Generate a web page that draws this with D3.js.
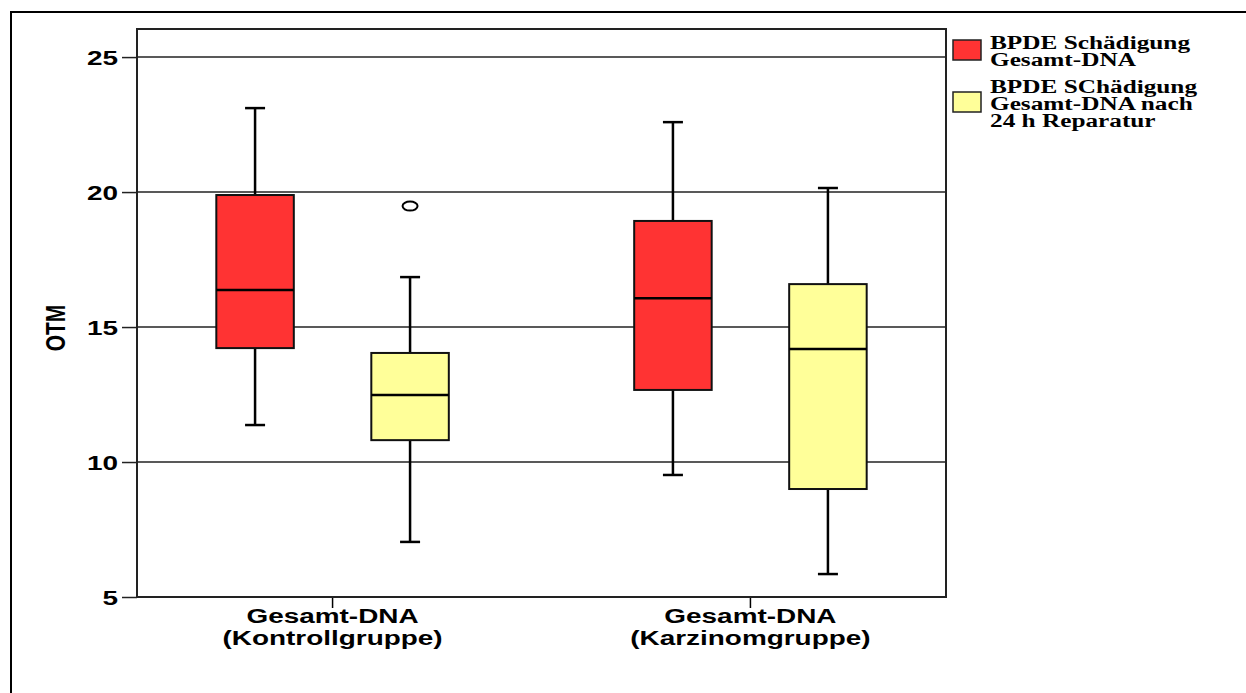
<!DOCTYPE html>
<meta charset="utf-8">
<style>
  body { margin: 0; background: #fff; }
  .tick-label { font-family: "Liberation Sans", Arial, sans-serif; font-weight: bold; font-size: 21px; }
  .legend-label { font-family: "Liberation Serif", "Times New Roman", serif; font-weight: bold; font-size: 19px; }
</style>
<svg width="1246" height="693"></svg>
<script src="https://d3js.org/d3.v7.min.js"></script>
<script>
  // Data
  var groups = ["Kontrollgruppe", "Karzinomgruppe"];
  var groupLabels = [["Gesamt-DNA", "(Kontrollgruppe)"], ["Gesamt-DNA", "(Karzinomgruppe)"]];
  var series = ["schaedigung", "reparatur"];
  var seriesLabels = [
    ["BPDE Schädigung", "Gesamt-DNA"],
    ["BPDE SChädigung", "Gesamt-DNA nach", "24 h Reparatur"]
  ];
  var seriesColors = ["#ff3333", "#ffff99"];

  // box stats per series, one value per group
  var mins    = [[11.37, 9.52], [7.04, 5.85]];
  var q1s     = [[14.22, 12.67], [10.81, 9.00]];
  var medians = [[16.37, 16.07], [12.48, 14.19]];
  var q3s     = [[19.89, 18.93], [14.04, 16.59]];
  var maxs    = [[23.11, 22.59], [16.85, 20.15]];
  var outliers = [{ group: 0, series: 1, value: 19.48 }];

  var yTicks = [5, 10, 15, 20, 25];

  var svg = d3.select("svg");
  var stretch = 1.33; // the original image was stretched horizontally

  var plot = { left: 137, top: 29, right: 946, bottom: 597 };

  // outer frame
  svg.append("rect")
    .attr("x", 11).attr("y", 12)
    .attr("width", 1250).attr("height", 700)
    .attr("fill", "none").attr("stroke", "#000").attr("stroke-width", 2);

  var x = d3.scalePoint()
    .domain(groups)
    .range([plot.left, plot.right])
    .padding(0.468);

  var xSub = d3.scaleBand()
    .domain(series)
    .range([-116.25, 116.25])
    .paddingInner(0.5);

  var y = d3.scaleLinear()
    .domain([5, 26.04])
    .range([plot.bottom, plot.top]);

  // gridlines
  svg.append("g")
    .selectAll("line")
    .data(yTicks.slice(1))
    .join("line")
    .attr("x1", plot.left).attr("x2", plot.right)
    .attr("y1", function (d) { return y(d); })
    .attr("y2", function (d) { return y(d); })
    .attr("stroke", "#222").attr("stroke-width", 1.5);

  // y axis
  var yAxis = svg.append("g")
    .attr("transform", "translate(" + plot.left + ",0)")
    .call(d3.axisLeft(y).tickValues(yTicks).tickSize(15).tickFormat(d3.format("d")));
  yAxis.select(".domain").remove();
  yAxis.selectAll(".tick line").attr("stroke", "#222").attr("stroke-width", 1.5);
  yAxis.selectAll(".tick text")
    .attr("class", "tick-label")
    .attr("x", null)
    .attr("dy", "0.36em")
    .attr("text-anchor", "end")
    .attr("fill", "#000")
    .attr("transform", "translate(-19,0) scale(" + stretch + ",1)");

  // x axis ticks
  svg.append("g")
    .selectAll("line")
    .data(groups)
    .join("line")
    .attr("x1", function (d) { return x(d); })
    .attr("x2", function (d) { return x(d); })
    .attr("y1", plot.bottom).attr("y2", plot.bottom + 11)
    .attr("stroke", "#000").attr("stroke-width", 1.5);

  var xl = svg.append("g")
    .selectAll("g")
    .data(groups)
    .join("g")
    .attr("transform", function (d) { return "translate(" + x(d) + ",623) scale(" + stretch + ",1)"; });
  xl.each(function (d, i) {
    d3.select(this).selectAll("text")
      .data(groupLabels[i])
      .join("text")
      .attr("class", "tick-label")
      .attr("text-anchor", "middle")
      .attr("y", function (t, j) { return j * 22; })
      .text(function (t) { return t; });
  });

  // y title
  svg.append("text")
    .attr("class", "tick-label")
    .attr("font-size", 20)
    .attr("text-anchor", "middle")
    .attr("transform", "translate(65,328) scale(" + stretch + ",1) rotate(-90)")
    .text("OTM");

  // boxes
  var boxes = [];
  series.forEach(function (s, si) {
    groups.forEach(function (g, gi) {
      boxes.push({
        s: s, g: g, color: seriesColors[si],
        min: mins[si][gi], q1: q1s[si][gi], med: medians[si][gi],
        q3: q3s[si][gi], max: maxs[si][gi]
      });
    });
  });

  var bw = xSub.bandwidth();
  var bx = svg.append("g")
    .selectAll("g")
    .data(boxes)
    .join("g")
    .attr("transform", function (d) { return "translate(" + (x(d.g) + xSub(d.s)) + ",0)"; });

  // whiskers
  bx.append("line")
    .attr("x1", bw / 2).attr("x2", bw / 2)
    .attr("y1", function (d) { return y(d.max); })
    .attr("y2", function (d) { return y(d.min); })
    .attr("stroke", "#000").attr("stroke-width", 2.5);
  bx.selectAll(".cap")
    .data(function (d) { return [d.min, d.max]; })
    .join("line")
    .attr("class", "cap")
    .attr("x1", bw / 2 - 10).attr("x2", bw / 2 + 10)
    .attr("y1", function (v) { return y(v); })
    .attr("y2", function (v) { return y(v); })
    .attr("stroke", "#000").attr("stroke-width", 2.5);

  bx.append("rect")
    .attr("x", 0).attr("width", bw)
    .attr("y", function (d) { return y(d.q3); })
    .attr("height", function (d) { return y(d.q1) - y(d.q3); })
    .attr("fill", function (d) { return d.color; })
    .attr("stroke", "#111").attr("stroke-width", 2);

  bx.append("line")
    .attr("x1", 0).attr("x2", bw)
    .attr("y1", function (d) { return y(d.med); })
    .attr("y2", function (d) { return y(d.med); })
    .attr("stroke", "#000").attr("stroke-width", 2.5);

  // outliers
  svg.append("g")
    .selectAll("ellipse")
    .data(outliers)
    .join("ellipse")
    .attr("cx", function (d) { return x(groups[d.group]) + xSub(series[d.series]) + bw / 2; })
    .attr("cy", function (d) { return y(d.value); })
    .attr("rx", 7.5).attr("ry", 4.5)
    .attr("fill", "none").attr("stroke", "#000").attr("stroke-width", 2);

  // plot frame
  svg.append("rect")
    .attr("x", plot.left).attr("y", plot.top)
    .attr("width", plot.right - plot.left).attr("height", plot.bottom - plot.top)
    .attr("fill", "none").attr("stroke", "#222").attr("stroke-width", 2);

  // legend
  var legendY = [40, 92];
  var lg = svg.append("g")
    .selectAll("g")
    .data(series)
    .join("g")
    .attr("transform", function (d, i) { return "translate(953," + legendY[i] + ")"; });
  lg.append("rect")
    .attr("width", 28).attr("height", 20)
    .attr("fill", function (d, i) { return seriesColors[i]; })
    .attr("stroke", "#222").attr("stroke-width", 1.5);
  lg.each(function (d, i) {
    var firstBase = i === 0 ? 9 : 1;
    d3.select(this).selectAll("text")
      .data(seriesLabels[i])
      .join("text")
      .attr("class", "legend-label")
      .attr("transform", function (t, j) {
        return "translate(37," + (firstBase + j * 17) + ") scale(" + stretch + ",1)";
      })
      .text(function (t) { return t; });
  });
</script>
